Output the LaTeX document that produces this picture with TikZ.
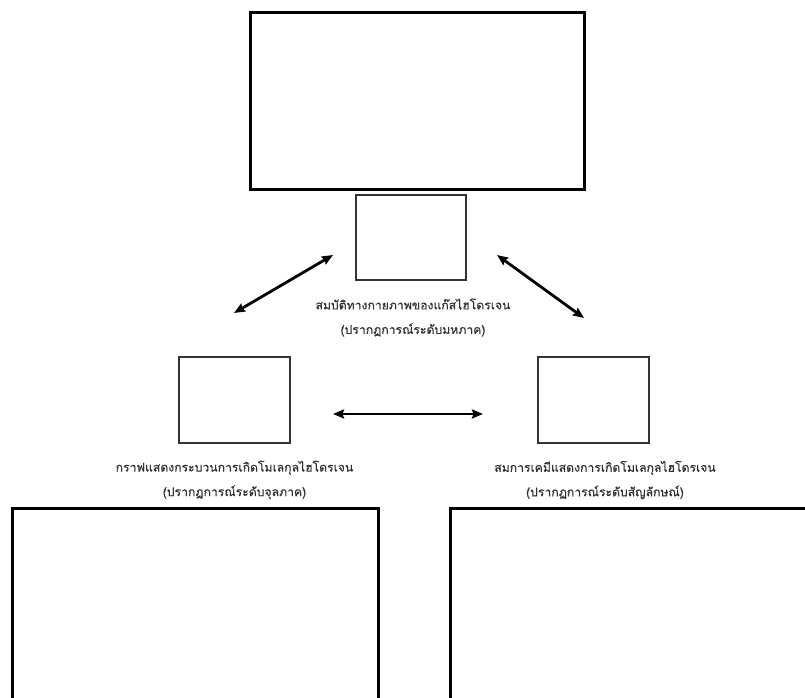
\documentclass[tikz,border=0pt]{standalone}
\usepackage{fontspec}
\newfontfamily\thaifont[Script=Thai,FakeBold=0.5]{Loma}
\usetikzlibrary{arrows.meta}
\definecolor{lbl_gray}{RGB}{50, 50, 50}
\tikzstyle{bigbox}=[rectangle,draw=black,line width=3pt,inner sep=0pt]
\tikzstyle{smallbox}=[rectangle,draw=black!80,line width=2pt,inner sep=0pt,
  minimum width=111pt,minimum height=86pt]
\tikzstyle{lbl}=[align=center,text=lbl_gray,inner sep=0pt,
  font=\thaifont\fontsize{12.2}{24.5}\selectfont]
\tikzstyle{link}=[line width=2.8pt,<->,>={Stealth[length=11pt,width=9pt,inset=1.5pt]}]

\begin{document}
\begin{tikzpicture}[x=1pt, y=-1pt]
    \clip (0, 0) rectangle (805, 698);
    \node [style=bigbox, minimum width=334pt, minimum height=176pt] (top) at (417, 101) {};
    \node [style=smallbox, minimum width=110pt, minimum height=85pt] (macro) at (411, 237.5) {};
    \node [style=smallbox] (micro) at (234.5, 400) {};
    \node [style=smallbox] (symbol) at (593.5, 400) {};
    \node [style=bigbox, minimum width=366pt, minimum height=212pt] (botleft) at (195, 614) {};
    \node [style=bigbox, minimum width=380pt, minimum height=212pt] (botright) at (640, 614) {};
    \node [style=lbl] (macrolbl) at (413, 317.5) {สมบัติทางกายภาพของแก๊สไฮโดรเจน\\(ปรากฏการณ์ระดับมหภาค)};
    \node [style=lbl] (microlbl) at (234.5, 480) {กราฟแสดงกระบวนการเกิดโมเลกุลไฮโดรเจน\\(ปรากฏการณ์ระดับจุลภาค)};
    \node [style=lbl] (symbollbl) at (605, 480) {สมการเคมีแสดงการเกิดโมเลกุลไฮโดรเจน\\(ปรากฏการณ์ระดับสัญลักษณ์)};
    \coordinate (ml) at (234, 313);
    \coordinate (mr) at (333, 255);
    \coordinate (sl) at (497, 255);
    \coordinate (sr) at (584, 318);
    \coordinate (hl) at (333, 414);
    \coordinate (hr) at (483, 414);
    \draw [style=link] (ml) to (mr);
    \draw [style=link] (sl) to (sr);
    \draw [style=link] (hl) to (hr);
\end{tikzpicture}
\end{document}
